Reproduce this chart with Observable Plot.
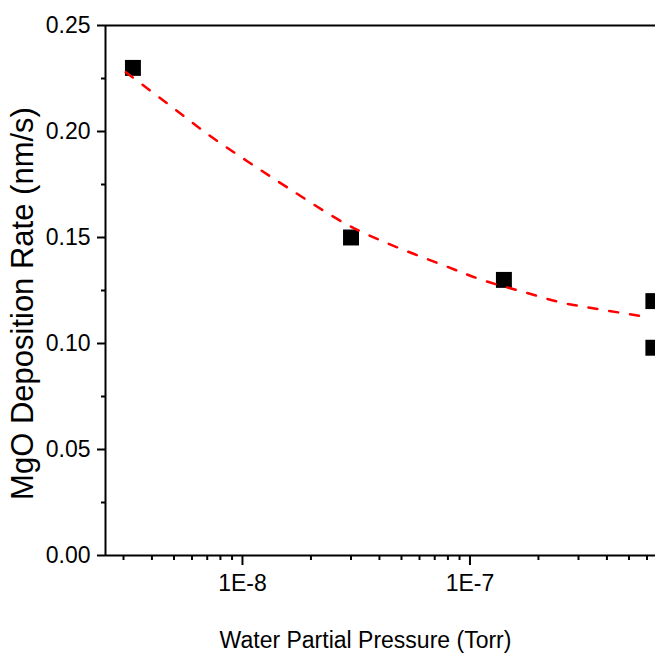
<!DOCTYPE html>
<html>
<head>
<meta charset="utf-8">
<script src="https://cdn.jsdelivr.net/npm/d3@7"></script>
<script src="https://cdn.jsdelivr.net/npm/@observablehq/plot@0.6"></script>
<style>
  html, body { margin: 0; padding: 0; background: #fff; overflow: hidden; }
</style>
</head>
<body>
<div id="chart"></div>
<script>
// Measured deposition rates
const pressure = [3.3e-9, 3.0e-8, 1.41e-7, 6.4e-7, 6.4e-7];
const rate = [0.230, 0.150, 0.130, 0.120, 0.098];

// Fitted trend (red dashed curve)
const fitPressure = [3.07e-9, 4.76e-9, 7.06e-9, 1.05e-8, 1.57e-8, 2.84e-8, 4.22e-8, 7.69e-8, 1.15e-7, 1.70e-7, 2.55e-7, 3.78e-7, 5.81e-7];
const fitRate = [0.2280, 0.2126, 0.1986, 0.1860, 0.1737, 0.1565, 0.1478, 0.1368, 0.1297, 0.1245, 0.1192, 0.1160, 0.1127];

// Axes
const yTicks = [0, 0.05, 0.10, 0.15, 0.20, 0.25];
const yTickLabels = ["0.00", "0.05", "0.10", "0.15", "0.20", "0.25"];
const yMinorTicks = [0.025, 0.075, 0.125, 0.175, 0.225];
const xTicks = [1e-8, 1e-7];
const xTickLabels = ["1E-8", "1E-7"];
const xMinorTicks = [3e-9, 4e-9, 5e-9, 6e-9, 7e-9, 8e-9, 9e-9,
                     2e-8, 3e-8, 4e-8, 5e-8, 6e-8, 7e-8, 8e-8, 9e-8,
                     2e-7, 3e-7, 4e-7, 5e-7, 6e-7];
const xDomain = [2.5e-9, 6.54e-7];
const yDomain = [0, 0.25];
const xLabel = "Water Partial Pressure (Torr)";
const yLabel = "MgO Deposition Rate (nm/s)";

const points = pressure.map((p, i) => ({p, r: rate[i]}));
const fit = fitPressure.map((p, i) => ({p, r: fitRate[i]}));

const chart = Plot.plot({
  width: 655,
  height: 656,
  marginLeft: 105,
  marginRight: 0,
  marginTop: 25,
  marginBottom: 101,
  style: {fontFamily: "'Liberation Sans', Arial, sans-serif", background: "white", color: "black", overflow: "hidden"},
  x: {type: "log", domain: xDomain},
  y: {domain: yDomain},
  marks: [
    // frame lines: left, bottom and top
    Plot.ruleX([xDomain[0]], {y1: yDomain[0], y2: yDomain[1], stroke: "black", strokeWidth: 2}),
    Plot.ruleY([yDomain[0], yDomain[1]], {stroke: "black", strokeWidth: 2}),
    // y axis
    Plot.axisY(yTicks, {
      tickSize: 8, tickPadding: 7, strokeWidth: 2, fontSize: 23, label: null,
      tickFormat: d => yTickLabels[yTicks.indexOf(d)]
    }),
    Plot.axisY(yMinorTicks, {tickSize: 4, strokeWidth: 2, text: null, label: null}),
    // x axis
    Plot.axisX(xTicks, {
      tickSize: 10, tickPadding: 9, strokeWidth: 2, fontSize: 23, label: null,
      tickFormat: d => xTickLabels[xTicks.indexOf(d)]
    }),
    Plot.axisX(xMinorTicks, {tickSize: 5, strokeWidth: 2, text: null, label: null}),
    // data
    Plot.dot(points, {x: "p", y: "r", symbol: "square", r: 9, fill: "black", stroke: "none"}),
    Plot.line(fit, {x: "p", y: "r", stroke: "#ff0000", strokeWidth: 2.5, strokeDasharray: "9,12", curve: "catmull-rom"}),
    // axis titles
    Plot.text([xLabel], {frameAnchor: "bottom", dx: -15, dy: 85, textAnchor: "middle", lineAnchor: "middle", fontSize: 23, fill: "black"}),
    Plot.text([yLabel], {frameAnchor: "left", rotate: -90, dx: -82, dy: 13, textAnchor: "middle", lineAnchor: "middle", fontSize: 31, fill: "black"})
  ]
});
document.getElementById("chart").appendChild(chart);
</script>
</body>
</html>
